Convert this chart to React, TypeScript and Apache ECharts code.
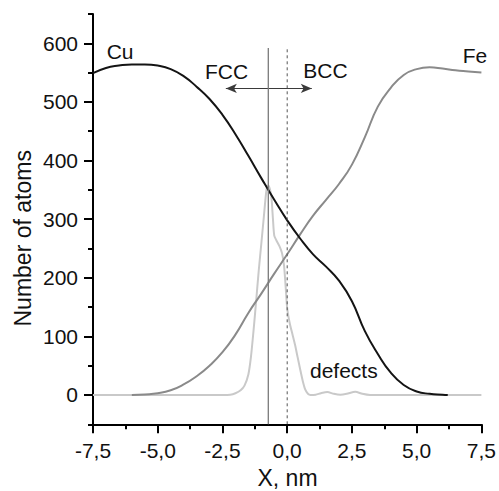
import React, { useEffect, useRef } from "react";
import * as echarts from "echarts";

// ---- data ----
const cuX = [-7.5, -7.0, -6.5, -6.0, -5.5, -5.0, -4.5, -4.0, -3.5, -3.0, -2.5, -2.0, -1.5, -1.0, -0.5, 0.0, 0.5, 1.0, 1.5, 2.0, 2.5, 3.0, 3.5, 4.0, 4.5, 5.0, 5.5, 6.0, 6.2];
const cuY = [549, 558, 562, 564, 564, 562, 556, 544, 526, 505, 478, 445, 408, 370, 333, 298, 267, 240, 219, 195, 160, 109, 70, 38, 17, 6, 2, 0.5, 0];

const feX = [-6.0, -5.5, -5.0, -4.5, -4.0, -3.5, -3.0, -2.5, -2.0, -1.5, -1.0, -0.5, 0.0, 0.5, 1.0, 1.5, 2.0, 2.5, 3.0, 3.5, 4.0, 4.5, 5.0, 5.5, 6.0, 6.5, 7.0, 7.5];
const feY = [0, 1, 3, 8, 18, 32, 50, 73, 103, 140, 173, 207, 240, 274, 306, 333, 360, 393, 440, 492, 524, 546, 556, 559, 557, 554, 552, 550];

const defX = [-7.5, -2.5, -2.2, -2.0, -1.8, -1.65, -1.5, -1.4, -1.3, -1.2, -1.1, -1.0, -0.9, -0.8, -0.73, -0.65, -0.6, -0.55, -0.5, -0.42, -0.3, -0.2, -0.12, -0.06, 0.0, 0.1, 0.2, 0.3, 0.4, 0.5, 0.6, 0.7, 0.8, 0.9, 1.1, 1.3, 1.55, 1.8, 2.05, 2.3, 2.63, 2.9, 3.2, 7.5];
const defY = [0, 0, 0.5, 3, 8, 16, 35, 65, 110, 160, 212, 258, 305, 350, 358, 348, 332, 300, 272, 264, 254, 242, 220, 185, 148, 122, 104, 86, 65, 44, 24, 9, 2, 0, 0.5, 3, 5, 2, 0.5, 2, 5.5, 2, 0, 0];

const boundaryX = -0.73;   // solid vertical line
const interfaceX = 0.0;    // dashed vertical line
const lineTop = 592;
const arrowY = 523;
const arrowFrom = -2.37;
const arrowTo = 0.95;

const xMin = -7.5;
const xMax = 7.5;
const xInterval = 2.5;
const yMin = -50;
const yMax = 650;
const yMajor = [0, 100, 200, 300, 400, 500, 600];
const yMinor = [-50, 50, 150, 250, 350, 450, 550, 650];

const pairs = (xs: number[], ys: number[]) => xs.map((x, i) => [x, ys[i]]);

const FONT = "'Liberation Sans', Arial, sans-serif";

export default function App() {
  const ref = useRef<HTMLDivElement>(null);
  useEffect(() => {
    if (!ref.current) return;
    const chart = echarts.init(ref.current, undefined, { renderer: "svg" });
    const axisLine = { show: true, onZero: false, lineStyle: { color: "#000", width: 2 } };
    chart.setOption({
      animation: false,
      backgroundColor: "#fff",
      grid: { left: 93, right: 16.7, top: 14, bottom: 66.7 },
      xAxis: {
        type: "value",
        min: xMin,
        max: xMax,
        interval: xInterval,
        axisLine,
        axisTick: { show: true, inside: false, length: 9, lineStyle: { color: "#000", width: 2 } },
        minorTick: { show: true, splitNumber: 2, length: 5, lineStyle: { color: "#000", width: 2 } },
        splitLine: { show: false },
        axisLabel: {
          fontFamily: FONT,
          fontSize: 21,
          color: "#111",
          margin: 16,
          formatter: (v: number) => v.toFixed(1).replace(".", ","),
        },
      },
      yAxis: [
        {
          type: "value",
          min: yMin,
          max: yMax,
          axisLine,
          axisTick: { show: true, length: 9, customValues: yMajor, lineStyle: { color: "#000", width: 2 } },
          splitLine: { show: false },
          axisLabel: {
            fontFamily: FONT,
            fontSize: 21,
            color: "#111",
            margin: 15,
            customValues: yMajor,
            formatter: (v: number) => String(v),
          },
        },
        {
          type: "value",
          min: yMin,
          max: yMax,
          position: "left",
          axisLine: { show: false, onZero: false },
          axisTick: { show: true, length: 5, customValues: yMinor, lineStyle: { color: "#000", width: 2 } },
          splitLine: { show: false },
          axisLabel: { show: false },
        },
      ],
      series: [
        {
          name: "defects",
          type: "line",
          data: pairs(defX, defY),
          symbol: "none",
          smooth: 0.25,
          lineStyle: { color: "#c9c9c9", width: 2 },
          z: 2,
        },
        {
          name: "Fe",
          type: "line",
          data: pairs(feX, feY),
          symbol: "none",
          smooth: 0.5,
          lineStyle: { color: "#8a8a8a", width: 2 },
          z: 3,
        },
        {
          name: "Cu",
          type: "line",
          data: pairs(cuX, cuY),
          symbol: "none",
          smooth: 0.5,
          lineStyle: { color: "#141414", width: 2 },
          z: 4,
        },
        {
          name: "boundary",
          type: "line",
          data: [[boundaryX, yMin], [boundaryX, lineTop]],
          symbol: "none",
          lineStyle: { color: "#7a7a7a", width: 1.3 },
          z: 5,
        },
        {
          name: "interface",
          type: "line",
          data: [[interfaceX, yMin], [interfaceX, lineTop]],
          symbol: "none",
          lineStyle: { color: "#555", width: 1, type: [3, 3] },
          z: 5,
        },
        {
          name: "arrow",
          type: "line",
          data: [],
          symbol: "none",
          markLine: {
            silent: true,
            symbol: ["arrow", "arrow"],
            symbolSize: [7, 11],
            label: { show: false },
            lineStyle: { color: "#3a3a3a", width: 1.2, type: "solid" },
            data: [[{ coord: [arrowFrom, arrowY] }, { coord: [arrowTo, arrowY] }]],
          },
          z: 5,
        },
      ],
      graphic: [
        { type: "text", left: 106.7, top: 41, style: { text: "Cu", font: `21px ${FONT}`, fill: "#111" } },
        { type: "text", left: 205, top: 60.5, style: { text: "FCC", font: `21px ${FONT}`, fill: "#111" } },
        { type: "text", left: 303.3, top: 60, style: { text: "BCC", font: `21px ${FONT}`, fill: "#111" } },
        { type: "text", left: 462.7, top: 44.5, style: { text: "Fe", font: `21px ${FONT}`, fill: "#111" } },
        { type: "text", left: 310, top: 359.5, style: { text: "defects", font: `21px ${FONT}`, fill: "#111" } },
        {
          type: "text",
          x: 23.3,
          y: 238.3,
          rotation: Math.PI / 2,
          style: { text: "Number of atoms", font: `23px ${FONT}`, fill: "#111", align: "center", verticalAlign: "middle" },
        },
        {
          type: "text",
          x: 287.5,
          y: 478.3,
          style: { text: "X, nm", font: `23px ${FONT}`, fill: "#111", align: "center", verticalAlign: "middle" },
        },
      ],
    });
    return () => chart.dispose();
  }, []);
  return <div ref={ref} style={{ position: "absolute", left: 0, top: 0, width: 499, height: 491 }} />;
}
